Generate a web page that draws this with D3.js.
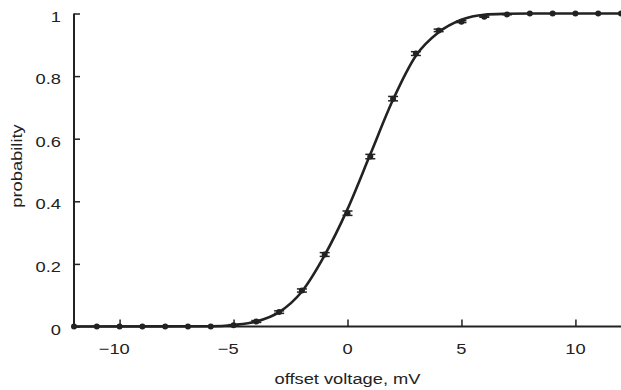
<!DOCTYPE html>
<html>
<head>
<meta charset="utf-8">
<script src="https://cdn.jsdelivr.net/npm/d3@7"></script>
<style>
  body { margin: 0; background: #fff; }
  text { font-family: "Liberation Sans", Arial, sans-serif; fill: #222; }
</style>
</head>
<body>
<div id="chart"></div>
<script>
// offset voltage (mV)
const voltages = [-12, -11, -10, -9, -8, -7, -6, -5, -4, -3, -2, -1, 0, 1, 2, 3, 4, 5, 6, 7, 8, 9, 10, 11, 12];
// measured probability
const probs = [0, 0, 0, 0, 0, 0, 0, 0.004, 0.016, 0.046, 0.115, 0.23, 0.362, 0.543, 0.728, 0.872, 0.946, 0.974, 0.99, 0.997, 1, 1, 1, 1, 1];
// error (half-width)
const errs = [0, 0, 0, 0, 0, 0, 0, 0.002, 0.003, 0.004, 0.005, 0.006, 0.007, 0.007, 0.007, 0.006, 0.004, 0.003, 0.002, 0.001, 0, 0, 0, 0, 0];
// fitted curve
const fitX = [-12, -6, -5, -4, -3, -2, -1, 0, 1, 2, 3, 4, 5, 6, 7, 8, 12];
const fitY = [0, 0.001, 0.005, 0.016, 0.046, 0.112, 0.228, 0.375, 0.55, 0.725, 0.865, 0.94, 0.98, 0.996, 0.999, 1, 1];
const xTicks = [-10, -5, 0, 5, 10];
const yTicks = [0, 0.2, 0.4, 0.6, 0.8, 1];

const width = 621, height = 390;
const svg = d3.select('#chart').append('svg')
    .attr('width', width)
    .attr('height', height);

const x = d3.scaleLinear().domain([-12, 12]).range([74, 621]);
const y = d3.scaleLinear().domain([0, 1]).range([326.5, 13.5]);

const ink = '#222';
const fs = 15, sx = 1.22;  // font is a bit wide in the original

// text helper: wide glyphs via horizontal scale
function label(px, py, str, anchor, rot) {
    return svg.append('text')
        .attr('transform', `translate(${px},${py})` + (rot ? ` rotate(${rot})` : '') + ` scale(${sx},1)`)
        .attr('text-anchor', anchor)
        .attr('font-size', fs)
        .text(str);
}

// axes
const xAxis = svg.append('g')
    .attr('transform', `translate(0,${y(0)})`)
    .call(d3.axisTop(x).tickValues(xTicks).tickSize(7).tickFormat(''));
xAxis.select('.domain').attr('stroke', ink).attr('stroke-width', 2).attr('d', `M${x(-12)},0H${x(12)}`);
xAxis.selectAll('.tick line').attr('stroke', ink).attr('stroke-width', 1.5);

// x tick labels: digits centred on the tick, minus sign hangs to the left
xTicks.forEach(d => {
    const t = label(x(d), 354, Math.abs(d), 'middle');
    if (d < 0) {
        const w = t.node().getComputedTextLength() * sx;
        label(x(d) - w / 2, 354, '\u2212', 'end');
    }
});

const yAxis = svg.append('g')
    .attr('transform', `translate(${x(-12)},0)`)
    .call(d3.axisRight(y).tickValues(yTicks).tickSize(6).tickFormat(''));
yAxis.select('.domain').attr('stroke', ink).attr('stroke-width', 2).attr('d', `M0,${y(0)}V${y(1)}`);
yAxis.selectAll('.tick line').attr('stroke', ink).attr('stroke-width', 1.5);

yTicks.forEach(d => label(61, y(d) + 8, d, 'end'));

// axis titles
label(x(0), 384, 'offset voltage, mV', 'middle');
label(22, 166, 'probability', 'middle', -90);

// fitted curve
const fit = fitX.map((v, i) => ({ x: v, y: fitY[i] }));
svg.append('path')
    .datum(fit)
    .attr('fill', 'none')
    .attr('stroke', ink)
    .attr('stroke-width', 2.6)
    .attr('d', d3.line().x(d => x(d.x)).y(d => y(d.y)).curve(d3.curveMonotoneX));

// data points with error bars
const pts = voltages.map((v, i) => ({ x: v, y: probs[i], e: errs[i] }));
const pg = svg.append('g');
pts.forEach(d => {
    if (d.e > 0) {
        [d.y - d.e, d.y + d.e].forEach(v => {
            pg.append('line')
                .attr('x1', x(d.x) - 5).attr('x2', x(d.x) + 5)
                .attr('y1', y(v)).attr('y2', y(v))
                .attr('stroke', ink).attr('stroke-width', 1.5);
        });
        pg.append('line')
            .attr('x1', x(d.x)).attr('x2', x(d.x))
            .attr('y1', y(d.y - d.e)).attr('y2', y(d.y + d.e))
            .attr('stroke', ink).attr('stroke-width', 1.5);
    }
    pg.append('circle')
        .attr('cx', x(d.x))
        .attr('cy', y(d.y))
        .attr('r', 3)
        .attr('fill', ink);
});
</script>
</body>
</html>
